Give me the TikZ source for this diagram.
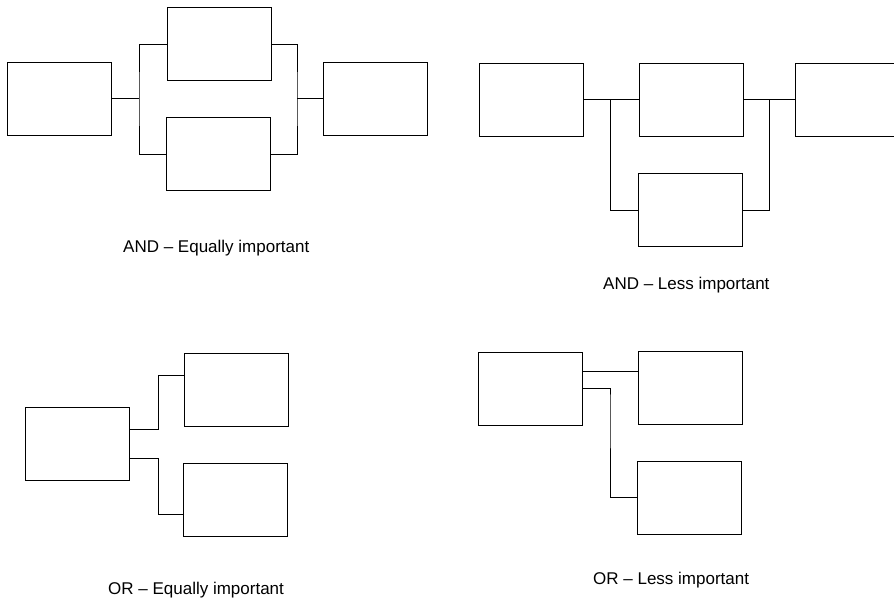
\documentclass[tikz,border=0pt]{standalone}
\usepackage{fontspec}
\setmainfont{Liberation Sans}
\begin{document}
\begin{tikzpicture}[x=1pt,y=-1pt,
  blk/.style={draw, line width=0.9pt, rectangle, inner sep=0pt, minimum width=104pt, minimum height=73pt},
  wire/.style={line width=0.9pt},
  lbl/.style={inner sep=0pt, anchor=base west, font=\fontsize{17}{20}\selectfont}]
\clip (0,0) rectangle (894,600);
\fill[white] (0,0) rectangle (894,600);
% ---------- AND - Equally important ----------
\node[blk] (p1) at (59.5,98.5) {};
\node[blk] (p2) at (219,44) {};
\node[blk] (p3) at (218,154) {};
\node[blk] (p4) at (375,98.5) {};
\coordinate (pj1) at (139,98.5);
\coordinate (pj2) at (297,98.5);
\draw[wire] (p1.east) -- (pj1);
\draw[wire] (p2.west) -| (pj1) |- (p3.west);
\draw[wire] (p2.east) -| (pj2) |- (p3.east);
\draw[wire] (pj2) -- (p4.west);
\node[lbl] (t1) at (123,252) {AND – Equally important};
% ---------- AND - Less important ----------
\node[blk] (q1) at (531,99.5) {};
\node[blk] (q2) at (691,99.5) {};
\node[blk] (q3) at (690,210) {};
\node[blk] (q4) at (847,99.5) {};
\coordinate (qj1) at (610,99.5);
\coordinate (qj2) at (769,99.5);
\draw[wire] (q1.east) -- (q2.west);
\draw[wire] (qj1) |- (q3.west);
\draw[wire] (q2.east) -- (q4.west);
\draw[wire] (qj2) |- (q3.east);
\node[lbl] (t2) at (603,289) {AND – Less important};
% ---------- OR - Equally important ----------
\node[blk] (r1) at (77,444) {};
\node[blk] (r2) at (236.5,389.5) {};
\node[blk] (r3) at (235,499.5) {};
\coordinate (rja) at (158,429);
\coordinate (rjb) at (158,458);
\draw[wire] ([yshift=15pt]r1.east) -- (rja) |- ([yshift=14.5pt]r2.west);
\draw[wire] ([yshift=-14pt]r1.east) -- (rjb) |- ([yshift=-14.5pt]r3.west);
\node[lbl] (t3) at (108,594) {OR – Equally important};
% ---------- OR - Less important ----------
\node[blk] (s1) at (530,388.5) {};
\node[blk] (s2) at (690.5,387.5) {};
\node[blk] (s3) at (689.5,497.5) {};
\coordinate (sj) at (610,400);
\draw[wire] ([yshift=17pt]s1.east) -- ([yshift=17pt]s1.east -| s2.west);
\draw[wire] (s1.east) -| (sj) |- (s3.west);
\node[lbl] (t4) at (593,584) {OR – Less important};
\end{tikzpicture}
\end{document}
